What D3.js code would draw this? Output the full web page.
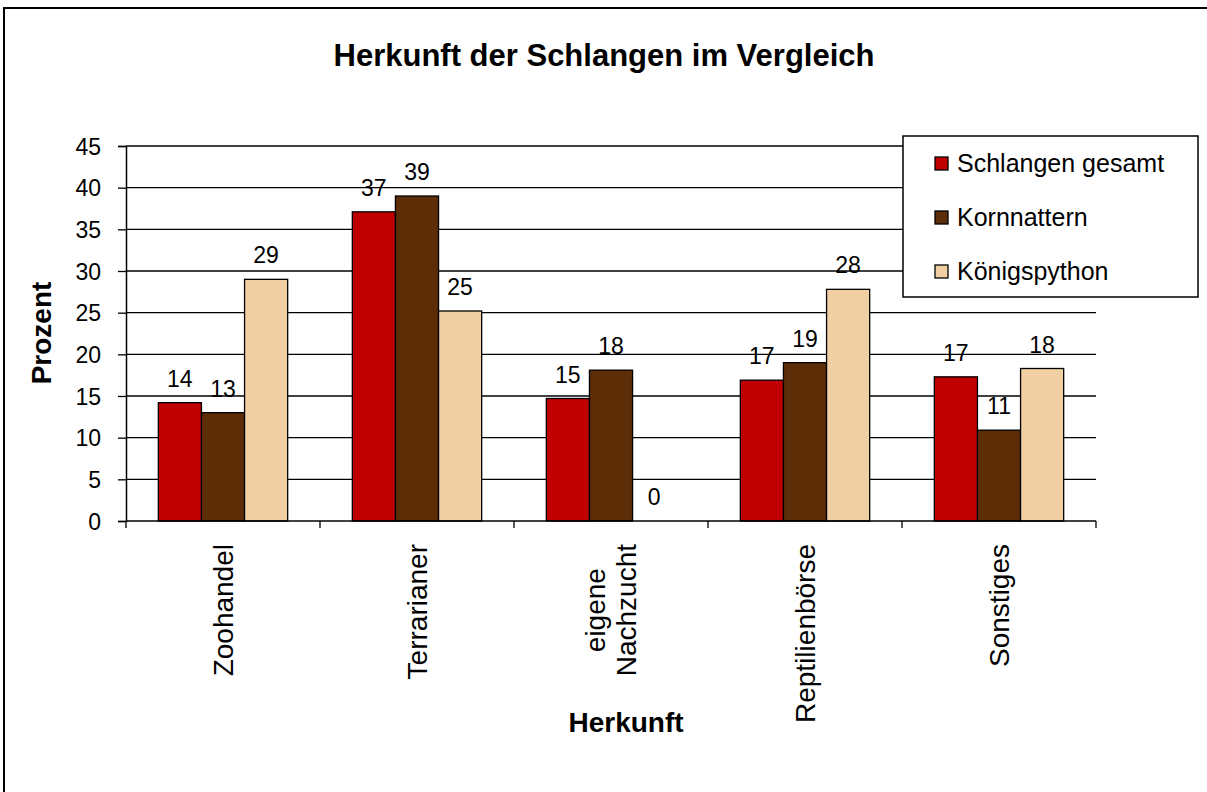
<!DOCTYPE html>
<html>
<head>
<meta charset="utf-8">
<script src="https://cdn.jsdelivr.net/npm/d3@7"></script>
<style>
  html, body { margin: 0; padding: 0; background: #fff; overflow: hidden; }
  svg { display: block; }
  text { font-family: "Liberation Sans", Arial, sans-serif; fill: #000; }
</style>
</head>
<body>
<svg id="chart"></svg>
<script>
const width = 1207;
const height = 792;

// data
const categories = ["Zoohandel", "Terrarianer", "eigene Nachzucht", "Reptilienbörse", "Sonstiges"];
const seriesNames = ["Schlangen gesamt", "Kornnattern", "Königspython"];
const gesamt = [14.2, 37.1, 14.7, 16.9, 17.3];
const kornnattern = [13.0, 39.0, 18.1, 19.0, 10.9];
const koenigspython = [29.0, 25.2, 0, 27.8, 18.3];
const yTicks = [0, 5, 10, 15, 20, 25, 30, 35, 40, 45];
const colors = ["#c00000", "#5c2d07", "#f0d0a2"];

const seriesValues = [gesamt, kornnattern, koenigspython];

const svg = d3.select("#chart")
    .attr("width", width)
    .attr("height", height);

// outer chart border, only top and left edges show in the picture
svg.append("path")
    .attr("d", `M4,${height} V8 H${width}`)
    .attr("fill", "none").attr("stroke", "#000").attr("stroke-width", 2);

const plot = { left: 126, right: 1096, top: 146, bottom: 521 };

const x = d3.scaleBand()
    .domain(categories)
    .range([plot.left, plot.right]);

// gap width 150% -> bars take 3/4.5 of the band
const groupWidth = x.bandwidth() * 3 / 4.5;
const xInner = d3.scaleBand()
    .domain(seriesNames)
    .range([0, groupWidth]);

const y = d3.scaleLinear()
    .domain([0, 45])
    .range([plot.bottom, plot.top]);

// gridlines
svg.append("g")
    .selectAll("line")
    .data(yTicks.filter(d => d > 0))
    .enter()
    .append("line")
    .attr("x1", plot.left).attr("x2", plot.right)
    .attr("y1", d => y(d)).attr("y2", d => y(d))
    .attr("stroke", "#000").attr("stroke-width", 1.3);

// y axis
const yAxis = svg.append("g")
    .attr("transform", `translate(${plot.left},0)`)
    .call(d3.axisLeft(y).tickValues(yTicks).tickSize(8).tickPadding(17));
yAxis.selectAll("text")
    .style("font-size", "23px")
    .style("font-family", "'Liberation Sans', Arial, sans-serif")
    .attr("dy", "0.35em");
yAxis.select(".domain").attr("stroke-width", 1.5);
yAxis.selectAll(".tick line").attr("stroke-width", 1.3);

// bars
const groups = svg.append("g")
    .selectAll("g")
    .data(categories)
    .enter()
    .append("g")
    .attr("transform", c => `translate(${x(c) + (x.bandwidth() - groupWidth) / 2},0)`);

const cells = (c, i) => seriesNames.map((s, j) => ({ s, j, v: seriesValues[j][i] }));

groups.selectAll("rect")
    .data(cells)
    .enter()
    .append("rect")
    .attr("x", d => xInner(d.s))
    .attr("y", d => y(d.v))
    .attr("width", xInner.bandwidth())
    .attr("height", d => y(0) - y(d.v))
    .attr("fill", d => colors[d.j])
    .attr("stroke", "#000")
    .attr("stroke-width", d => d.v > 0 ? 1.3 : 0);

// value labels
groups.selectAll("text")
    .data(cells)
    .enter()
    .append("text")
    .attr("x", d => xInner(d.s) + xInner.bandwidth() / 2)
    .attr("y", d => y(d.v) - 16)
    .attr("text-anchor", "middle")
    .style("font-size", "23px")
    .text(d => Math.round(d.v));

// x axis
const xAxis = svg.append("g")
    .attr("transform", `translate(0,${plot.bottom})`);
xAxis.append("line")
    .attr("x1", plot.left).attr("x2", plot.right)
    .attr("stroke", "#000").attr("stroke-width", 1.5);
xAxis.selectAll("line.tick")
    .data(d3.range(categories.length + 1))
    .enter()
    .append("line")
    .attr("class", "tick")
    .attr("x1", i => plot.left + i * x.bandwidth())
    .attr("x2", i => plot.left + i * x.bandwidth())
    .attr("y1", 0).attr("y2", 7)
    .attr("stroke", "#000").attr("stroke-width", 1.3);

// rotated category labels; lines centred on each other, top end just below the axis
const labelTop = 544;
const lineH = 31;
svg.append("g")
    .selectAll("text")
    .data(categories)
    .enter()
    .append("text")
    .style("font-size", "28px")
    .attr("text-anchor", "middle")
    .each(function(c) {
        const t = d3.select(this);
        const lines = c === "eigene Nachzucht" ? ["eigene", "Nachzucht"] : [c];
        const spans = lines.map((l, k) => t.append("tspan")
            .attr("x", 0)
            .attr("dy", k === 0 ? "0.35em" : lineH)
            .text(l));
        const maxLen = d3.max(spans, s => s.node().getComputedTextLength());
        const cx = x(c) + x.bandwidth() / 2 - (lines.length - 1) * lineH / 2;
        t.attr("transform", `translate(${cx},${labelTop + maxLen / 2}) rotate(-90)`);
    });

// axis titles
svg.append("text")
    .attr("x", 626).attr("y", 732)
    .attr("text-anchor", "middle")
    .style("font-size", "28px").style("font-weight", "bold")
    .text("Herkunft");

svg.append("text")
    .attr("transform", `translate(41,333) rotate(-90)`)
    .attr("dy", "0.35em")
    .attr("text-anchor", "middle")
    .style("font-size", "28px").style("font-weight", "bold")
    .text("Prozent");

// chart title
svg.append("text")
    .attr("x", 604).attr("y", 66)
    .attr("text-anchor", "middle")
    .style("font-size", "31px").style("font-weight", "bold")
    .text("Herkunft der Schlangen im Vergleich");

// legend
const legend = svg.append("g").attr("transform", "translate(903,136)");
legend.append("rect")
    .attr("width", 295).attr("height", 161)
    .attr("fill", "#fff").attr("stroke", "#000").attr("stroke-width", 1.5);
const items = legend.selectAll("g")
    .data(seriesNames)
    .enter()
    .append("g")
    .attr("transform", (d, i) => `translate(32,${27 + i * 54})`);
items.append("rect")
    .attr("x", 0).attr("y", -6)
    .attr("width", 13).attr("height", 13)
    .attr("fill", (d, i) => colors[i])
    .attr("stroke", "#000").attr("stroke-width", 1.3);
items.append("text")
    .attr("x", 22).attr("dy", "0.35em")
    .style("font-size", "25px")
    .text(d => d);
</script>
</body>
</html>
